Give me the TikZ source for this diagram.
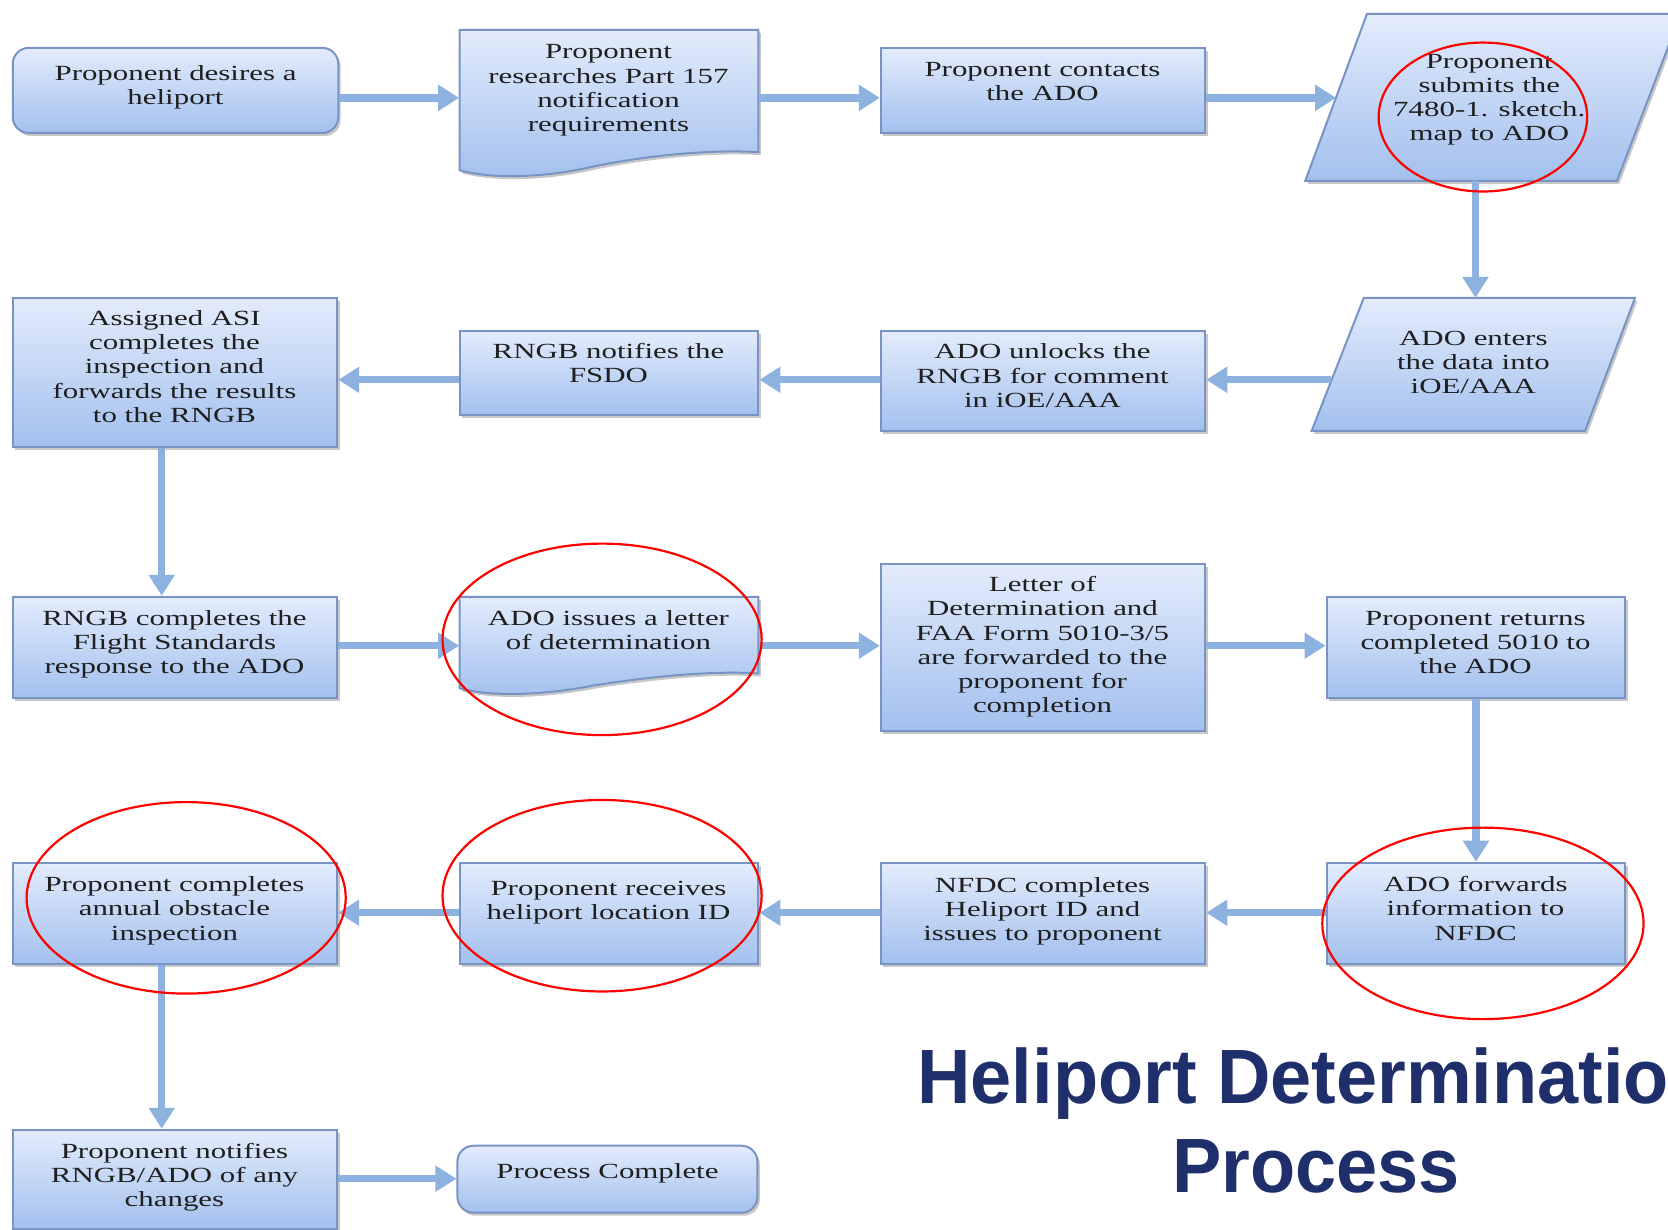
\documentclass[tikz,border=0pt]{standalone}
\usepackage{fontspec}
\setmainfont{Liberation Serif}
\newfontfamily\titlefont{Liberation Sans}
\usetikzlibrary{arrows.meta,shadows,calc}
\definecolor{boxtop}{HTML}{E3ECFC}
\definecolor{boxbot}{HTML}{A3C0EE}
\definecolor{boxline}{HTML}{7894C4}
\definecolor{arrowc}{HTML}{8EB2E0}
\definecolor{titlec}{HTML}{1F2F6B}
\def\u{0.5319pt}
\newcommand{\txt}[1]{\scalebox{1.43}[1]{\begin{tabular}{@{}c@{}}#1\end{tabular}}}
\newcommand{\ttl}[1]{\scalebox{0.96}[1]{#1}}
\begin{document}
\begin{tikzpicture}[x=\u,y=-\u,
  box/.style={draw=boxline, line width=1pt, top color=boxtop, bottom color=boxbot,
    drop shadow={shadow xshift=1.2pt, shadow yshift=-1.5pt, fill=black, opacity=0.22},
    inner sep=0pt},
  rbox/.style={box, rounded corners=8pt},
  anch/.style={inner sep=0pt, draw=none},
  tx/.style={font=\fontsize{10.8}{12.1}\selectfont, text=black!88, inner sep=0pt, yshift=-1.6pt},
  arr/.style={draw=arrowc, line width=3.7pt, -{Triangle[width=12.5pt,length=10.5pt]}},
  ring/.style={draw=red, line width=1.1pt},
  ttlstyle/.style={font=\titlefont\bfseries\fontsize{38.5}{44}\selectfont, text=titlec, inner sep=0pt, anchor=base}]
\useasboundingbox (0,0) rectangle (1568,1156);
\fill[white] (0,0) rectangle (1568,1156);
\clip (0,0) rectangle (1568,1156);

% ---------- row 1 ----------
\node[rbox, minimum width=306*\u, minimum height=80*\u] (A) at (165,85) {};
\path[box] (432,28) -- (713,28) -- (713,143) .. controls (660,140) and (600,148) .. (560,156)
  .. controls (510,168) and (460,168) .. (432,160) -- cycle;
\node[anch, minimum width=281*\u, minimum height=132*\u] (B) at (572.5,94) {};
\node[box, minimum width=305*\u, minimum height=80*\u] (C) at (980.5,85) {};
\path[box] (1285,13) -- (1580,13) -- (1520,170) -- (1227,170) -- cycle;
\coordinate (Din) at (1256,92);
\coordinate (Dout) at (1387,170);

% ---------- row 2 ----------
\path[box] (1282,280) -- (1537,280) -- (1490,405) -- (1233,405) -- cycle;
\coordinate (Ein) at (1387,280);
\coordinate (Eout) at (1251,357);
\node[box, minimum width=305*\u, minimum height=94*\u] (F) at (980.5,358) {};
\node[box, minimum width=281*\u, minimum height=79*\u] (G) at (572.5,350.5) {};
\node[box, minimum width=305*\u, minimum height=140*\u] (H) at (164.5,350) {};

% ---------- row 3 ----------
\node[box, minimum width=305*\u, minimum height=95*\u] (I) at (164.5,608.5) {};
\path[box] (432,561) -- (713,561) -- (713,633) .. controls (660,630) and (600,638) .. (560,644)
  .. controls (510,654) and (460,655) .. (432,647) -- cycle;
\node[anch, minimum width=281*\u, minimum height=87*\u] (J) at (572.5,604.5) {};
\node[box, minimum width=305*\u, minimum height=157*\u] (K) at (980.5,608.5) {};
\node[box, minimum width=281*\u, minimum height=95*\u] (L) at (1387.5,608.5) {};

% ---------- row 4 ----------
\node[box, minimum width=281*\u, minimum height=95*\u] (M) at (1387.5,858.5) {};
\node[box, minimum width=305*\u, minimum height=95*\u] (N) at (980.5,858.5) {};
\node[box, minimum width=281*\u, minimum height=95*\u] (O) at (572.5,858.5) {};
\node[box, minimum width=305*\u, minimum height=95*\u] (P) at (164.5,858.5) {};

% ---------- row 5 ----------
\node[box, minimum width=305*\u, minimum height=93*\u] (Q) at (164.5,1108.5) {};
\node[rbox, minimum width=282*\u, minimum height=63*\u] (R) at (571,1108.5) {};

% ---------- texts ----------
\node[tx] (tA) at (165,79.5) {\txt{Proponent desires a\\heliport}};
\node[tx] (tB) at (572,82) {\txt{Proponent\\researches Part 157\\notification\\requirements}};
\node[tx] (tC) at (980,76) {\txt{Proponent contacts\\the ADO}};
\node[tx] (tD) at (1400,90.5) {\txt{Proponent\\submits the\\7480-1. sketch.\\map to ADO}};
\node[tx] (tE) at (1385,340) {\txt{ADO enters\\the data into\\iOE/AAA}};
\node[tx] (tF) at (980,352.5) {\txt{ADO unlocks the\\RNGB for comment\\in iOE/AAA}};
\node[tx] (tG) at (572,340.5) {\txt{RNGB notifies the\\FSDO}};
\node[tx] (tH) at (164,344) {\txt{Assigned ASI\\completes the\\inspection and\\forwards the results\\to the RNGB}};
\node[tx] (tI) at (164,603) {\txt{RNGB completes the\\Flight Standards\\response to the ADO}};
\node[tx] (tJ) at (572,591.5) {\txt{ADO issues a letter\\of determination}};
\node[tx] (tK) at (980,605.5) {\txt{Letter of\\Determination and\\FAA Form 5010-3/5\\are forwarded to the\\proponent for\\completion}};
\node[tx] (tL) at (1387,603) {\txt{Proponent returns\\completed 5010 to\\the ADO}};
\node[tx] (tM) at (1387,853.5) {\txt{ADO forwards\\information to\\NFDC}};
\node[tx] (tN) at (980,854) {\txt{NFDC completes\\Heliport ID and\\issues to proponent}};
\node[tx] (tO) at (572,845.5) {\txt{Proponent receives\\heliport location ID}};
\node[tx] (tP) at (164,853.5) {\txt{Proponent completes\\annual obstacle\\inspection}};
\node[tx] (tQ) at (164,1104) {\txt{Proponent notifies\\RNGB/ADO of any\\changes}};
\node[tx] (tR) at (571,1100) {\txt{Process Complete}};

% ---------- connectors ----------
\coordinate (r1) at (0,92);
\coordinate (r2) at (0,357);
\coordinate (r3) at (0,607);
\coordinate (r4) at (0,858);
\coordinate (r5) at (0,1108);
\coordinate (cL) at (152,0);
\draw[arr] (A.east |- r1) -- (B.west |- r1);
\draw[arr] (B.east |- r1) -- (C.west |- r1);
\draw[arr] (C.east |- r1) -- (Din);
\draw[arr] (Dout) -- (Ein);
\draw[arr] (Eout) -- (F.east |- r2);
\draw[arr] (F.west |- r2) -- (G.east |- r2);
\draw[arr] (G.west |- r2) -- (H.east |- r2);
\draw[arr] (H.south -| cL) -- (I.north -| cL);
\draw[arr] (I.east |- r3) -- (J.west |- r3);
\draw[arr] (J.east |- r3) -- (K.west |- r3);
\draw[arr] (K.east |- r3) -- (L.west |- r3);
\draw[arr] (L.south) -- (M.north);
\draw[arr] (M.west |- r4) -- (N.east |- r4);
\draw[arr] (N.west |- r4) -- (O.east |- r4);
\draw[arr] (O.west |- r4) -- (P.east |- r4);
\draw[arr] (P.south -| cL) -- (Q.north -| cL);
\draw[arr] (Q.east |- r5) -- (R.west |- r5);

% ---------- red rings ----------
\draw[ring] (1394,110) ellipse [x radius=98, y radius=70];
\draw[ring] (566,601) ellipse [x radius=150, y radius=90];
\draw[ring] (566,842) ellipse [x radius=150, y radius=90];
\draw[ring] (175,844) ellipse [x radius=150, y radius=90];
\draw[ring] (1394,868) ellipse [x radius=151, y radius=90];

% ---------- title (cut at the right edge, as in the reference) ----------
\node[ttlstyle] (T1) at (1237,1037) {\ttl{Heliport Determination}};
\node[ttlstyle] (T2) at (1237,1121) {\ttl{Process}};
\end{tikzpicture}
\end{document}
